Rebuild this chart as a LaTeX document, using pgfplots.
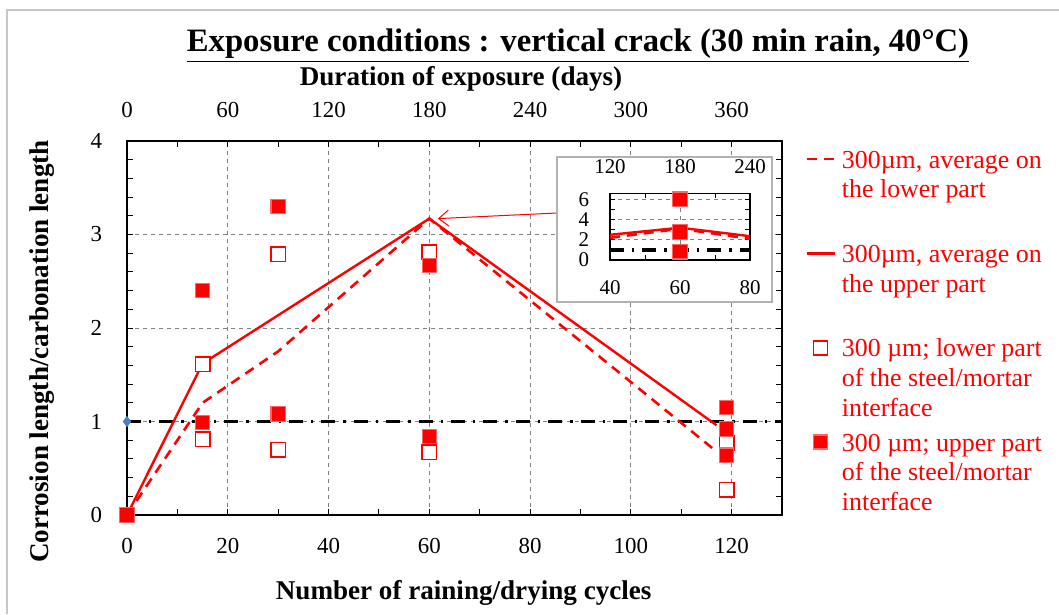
\documentclass[border=0pt]{standalone}
\usepackage{fontspec}
\setmainfont{Liberation Serif}
\usepackage{pgfplots}
\pgfplotsset{compat=1.18}
\usetikzlibrary{arrows.meta}

\definecolor{markblue}{RGB}{79,129,189}

\pgfplotsset{
  lineleg/.style={legend image code/.code={\draw[##1] (0bp,0bp) -- (14bp,0bp);}},
  markleg/.style={legend image code/.code={\draw[##1, mark repeat=2, mark phase=2]
      plot coordinates {(0bp,0bp) (7bp,0bp) (14bp,0bp)};}},
}

\begin{document}
\begin{tikzpicture}[x=1bp,y=1bp]
% page size: 1059x614 px at 0.5bp per px
\path[use as bounding box] (0,0) rectangle (529.5,307);
\draw[gray!45, line width=0.6bp] (3.5,0) -- (3.5,302) -- (529.5,302);

\node[font=\fontsize{16.4}{19}\selectfont\bfseries] at (289,284)
  {\underline{Exposure conditions : vertical crack (30 min rain, 40°C)}};

% main axis (cycles)
\begin{axis}[
    at={(63.5bp,49.5bp)}, anchor=south west,
    scale only axis, width=327.5bp, height=187bp,
    xmin=0, xmax=130, ymin=0, ymax=4,
    xtick={0,20,...,120}, minor xtick={10,30,...,110},
    ytick={0,1,...,4}, minor y tick num=4,
    tick align=inside, major tick length=3bp, minor tick length=3bp,
    tick style={black, line width=0.5bp},
    axis line style={line width=0.8bp},
    grid=major, major grid style={gray, line width=0.5bp, dash pattern=on 2bp off 2bp},
    /pgf/number format/assume math mode=true,
    ticklabel style={font=\fontsize{11.5}{13}\selectfont},
    xticklabel style={yshift=-8bp},
    yticklabel style={xshift=-9bp},
    label style={font=\fontsize{13.6}{16}\selectfont\bfseries},
    xlabel={Number of raining/drying cycles},
    ylabel={Corrosion length/carbonation length},
    xlabel style={at={(axis description cs:0.514,-0.209)}, anchor=center},
    ylabel style={at={(axis description cs:-0.13,0.437)}, anchor=center},
    legend style={at={(1.035,0.99)}, anchor=north west, draw=none, fill=none,
        inner sep=0pt, row sep=33.2bp, font=\fontsize{13}{15}\selectfont, text=red,
        nodes={inner sep=1bp},
        /tikz/every odd column/.append style={column sep=2bp}},
    legend cell align=left,
]
% reference ratio = 1
\addplot[black, line width=1.6bp, dash pattern=on 7bp off 4bp on 1.2bp off 4bp, forget plot]
    coordinates {(0,1) (130,1)};
\addplot[only marks, mark=diamond*, mark size=2.5bp, color=markblue, forget plot]
    coordinates {(0,1)};

% averages
\addplot[red, line width=1.3bp, dash pattern=on 5bp off 3.5bp, forget plot]
    coordinates {(0,0) (15,1.20) (30,1.75) (60,3.17) (116.3,0.71)};
\addplot[red, line width=1.2bp, forget plot]
    coordinates {(0,0) (15,1.62) (60,3.17) (117,0.96)};

% lower part (open)
\addplot[only marks, mark=square*, mark size=3.6bp,
    mark options={fill=white, draw=red, line width=0.8bp}, forget plot]
    coordinates {(0,0) (15,1.61) (15,0.81) (30,2.79) (30,0.70) (60,2.81) (60,0.67) (119,0.77) (119,0.27)};
% upper part (filled)
\addplot[only marks, mark=square*, mark size=3.6bp,
    mark options={fill=red, draw=red!60, line width=0.6bp}, forget plot]
    coordinates {(0,0) (15,2.40) (15,0.99) (30,3.30) (30,1.08) (60,2.67) (60,0.84) (119,1.15) (119,0.92) (119,0.64)};

\draw[red, line width=0.5bp, -{Straight Barb[length=5bp,width=8bp]}]
    (axis cs:85.3,3.23) -- (axis cs:61.7,3.17);

\addlegendimage{red, line width=1.3bp, dash pattern=on 5bp off 3.5bp, lineleg}
\addlegendentry{\begin{tabular}[t]{@{}l@{}}300µm, average on\\the lower part\end{tabular}}
\addlegendimage{red, line width=1.2bp, lineleg}
\addlegendentry{\begin{tabular}[t]{@{}l@{}}300µm, average on\\the upper part\end{tabular}}
\addlegendimage{only marks, mark=square*, mark size=3.5bp,
    mark options={fill=white, draw=red, line width=0.8bp}, markleg}
\addlegendentry{\begin{tabular}[t]{@{}l@{}}300 µm; lower part\\of the steel/mortar\\interface\end{tabular}}
\addlegendimage{only marks, mark=square*, mark size=3.5bp,
    mark options={fill=red, draw=red!60, line width=0.6bp}, markleg}
\addlegendentry{\begin{tabular}[t]{@{}l@{}}300 µm; upper part\\of the steel/mortar\\interface\end{tabular}}
\end{axis}

% secondary axis (days)
\begin{axis}[
    at={(63.5bp,49.5bp)}, anchor=south west,
    scale only axis, width=327.5bp, height=187bp,
    xmin=0, xmax=390, ymin=0, ymax=4,
    axis x line*=top, axis y line=none,
    axis line style={draw=none}, tick style={draw=none},
    xtick={0,60,...,360},
    /pgf/number format/assume math mode=true,
    ticklabel style={font=\fontsize{11.5}{13}\selectfont},
    xticklabel style={yshift=8bp},
    xlabel={Duration of exposure (days)},
    xlabel style={font=\fontsize{13.6}{16}\selectfont\bfseries,
        at={(axis description cs:0.51,1.165)}, anchor=center},
]
\end{axis}

% inset
\draw[gray!60, fill=white, line width=0.6bp] (278.5,156) rectangle (386,228.5);

\begin{axis}[
    at={(305bp,177bp)}, anchor=south west,
    scale only axis, width=70bp, height=33.3bp,
    xmin=40, xmax=80, ymin=0, ymax=6.6,
    xtick={40,60,80}, minor xtick={50,70},
    ytick={0,2,4,6}, minor y tick num=1,
    tick align=inside, major tick length=2.5bp, minor tick length=2.5bp,
    tick style={black, line width=0.5bp},
    axis line style={line width=0.8bp},
    grid=major, major grid style={gray, line width=0.5bp, dash pattern=on 2bp off 2bp},
    /pgf/number format/assume math mode=true,
    ticklabel style={font=\fontsize{10.5}{12}\selectfont},
    xticklabel style={yshift=-7bp},
    yticklabel style={xshift=-7bp},
]
\addplot[black, line width=1.6bp, dash pattern=on 7bp off 4bp on 1.2bp off 4bp]
    coordinates {(40,1) (80,1)};
\addplot[red, line width=1.3bp, dash pattern=on 5bp off 3.5bp]
    coordinates {(40,2.2) (60,3.1) (80,2.1)};
\addplot[red, line width=1.2bp]
    coordinates {(40,2.5) (60,3.2) (80,2.36)};
\addplot[only marks, mark=square*, mark size=3.7bp,
    mark options={fill=red, draw=red!60, line width=0.6bp}]
    coordinates {(60,6.0) (60,2.76) (60,0.83)};
\end{axis}

\begin{axis}[
    at={(305bp,177bp)}, anchor=south west,
    scale only axis, width=70bp, height=33.3bp,
    xmin=120, xmax=240, ymin=0, ymax=6.6,
    axis x line*=top, axis y line=none,
    axis line style={draw=none}, tick style={draw=none},
    xtick={120,180,240},
    /pgf/number format/assume math mode=true,
    ticklabel style={font=\fontsize{10.5}{12}\selectfont},
    xticklabel style={yshift=6.5bp},
]
\end{axis}
\end{tikzpicture}
\end{document}
